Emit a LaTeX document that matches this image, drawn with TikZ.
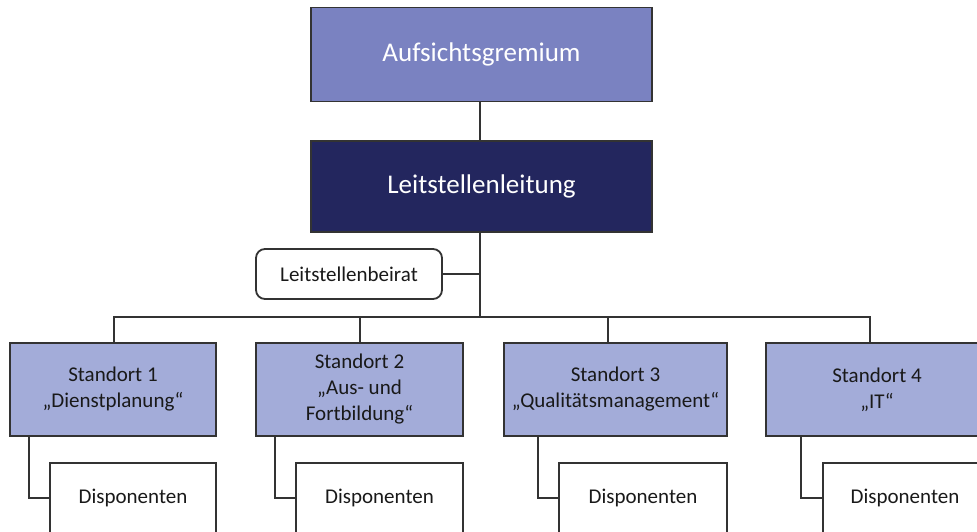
\documentclass[tikz,border=0pt]{standalone}
\usepackage{fontspec}
\setmainfont{Carlito}
\begin{document}
\begin{tikzpicture}[x=1pt,y=-1pt,
  line/.style={draw=black!80,line width=1.8pt},
  box/.style={draw=black!80,line width=1.8pt,rectangle,inner sep=2pt,align=center},
  topbox/.style={box,fill=agcol,text=white,font=\fontsize{27}{31}\selectfont,minimum width=341pt,minimum height=94pt},
  leadbox/.style={box,fill=llcol,text=white,font=\fontsize{27}{31}\selectfont,minimum width=341pt,minimum height=91pt},
  sitebox/.style={box,fill=stcol,text=black!90,font=\fontsize{21}{26}\selectfont,minimum height=93pt},
  dispbox/.style={box,fill=white,text=black!90,font=\fontsize{21}{26}\selectfont,minimum height=70pt},
  councilbox/.style={box,fill=white,rounded corners=9pt,text=black!90,font=\fontsize{21}{26}\selectfont,minimum width=186pt,minimum height=50pt}]
\definecolor{agcol}{HTML}{7A82C1}
\definecolor{llcol}{HTML}{23265E}
\definecolor{stcol}{HTML}{A3ACD9}
\useasboundingbox[fill=white] (0,0) rectangle (977,531);
\node[topbox] (ag) at (481.5,54.5) {Aufsichtsgremium};
\node[leadbox] (ll) at (481.5,186.5) {Leitstellenleitung};
\node[councilbox] (br) at (349,274) {Leitstellenbeirat};
\node[sitebox,minimum width=206pt] (s1) at (113,389.5) {Standort 1\\„Dienstplanung“};
\node[sitebox,minimum width=207pt] (s2) at (359.5,389.5) {Standort 2\\„Aus- und\\Fortbildung“};
\node[sitebox,minimum width=223pt] (s3) at (615.5,389.5) {Standort 3\\„Qualitätsmanagement“};
\node[sitebox,minimum width=222pt] (s4) at (877,389.5) {Standort 4\\„IT“};
\node[dispbox,minimum width=166pt] (d1) at (133,498) {Disponenten};
\node[dispbox,minimum width=167pt] (d2) at (379.5,498) {Disponenten};
\node[dispbox,minimum width=168pt] (d3) at (643,498) {Disponenten};
\node[dispbox,minimum width=164pt] (d4) at (905,498) {Disponenten};
\coordinate (b1) at (114,317);
\coordinate (b2) at (360,317);
\coordinate (b3) at (608,317);
\coordinate (b4) at (870,317);
\coordinate (bm) at (480,317);
\draw[line] (ag.south -| bm) -- (ll.north -| bm);
\draw[line] (ll.south -| bm) -- (bm);
\draw[line] (br.east) -- (br.east -| bm);
\draw[line] (b1 |- s1.north) -- (b1) -- (b4) -- (b4 |- s4.north);
\draw[line] (b2) -- (b2 |- s2.north);
\draw[line] (b3) -- (b3 |- s3.north);
\draw[line] (d1.west) -- ++(-20,0) coordinate (c1) -- (c1 |- s1.south);
\draw[line] (d2.west) -- ++(-20,0) coordinate (c2) -- (c2 |- s2.south);
\draw[line] (d3.west) -- ++(-20,0) coordinate (c3) -- (c3 |- s3.south);
\draw[line] (d4.west) -- ++(-21,0) coordinate (c4) -- (c4 |- s4.south);
\end{tikzpicture}
\end{document}
